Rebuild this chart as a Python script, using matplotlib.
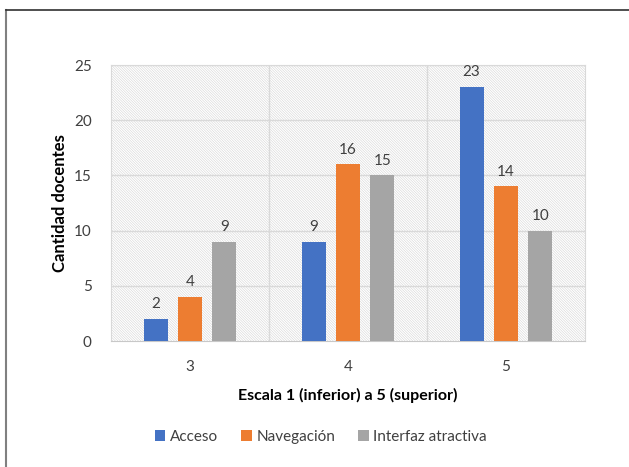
import matplotlib.pyplot as plt
import numpy as np
from matplotlib.patches import Rectangle
from matplotlib.lines import Line2D

plt.rcParams['font.family'] = ['Lato', 'DejaVu Sans']
plt.rcParams['hatch.linewidth'] = 0.4

categories = ['3', '4', '5']
series_names = ['Acceso', 'Navegación', 'Interfaz atractiva']
acceso = [2, 9, 23]
navegacion = [4, 16, 14]
interfaz = [9, 15, 10]
colors = ['#4472C4', '#ED7D31', '#A5A5A5']

fig = plt.figure(figsize=(6.29, 4.67), dpi=100)
ax = fig.add_axes([0.1765, 0.2698, 0.7535, 0.591])

# outer chart frame (only left and top edges visible)
fig.add_artist(Line2D([0.0095, 0.0095], [0, 0.979], color='#808080', lw=1.5))
fig.add_artist(Line2D([0.0095, 1.0], [0.979, 0.979], color='#303030', lw=1.2))

# hatched plot background
ax.add_patch(Rectangle((0, 0), 1, 1, transform=ax.transAxes, facecolor='white',
                       edgecolor='#d4d4d4', hatch='\\' * 13, lw=0, zorder=0))

x = np.arange(len(categories))
width = 0.152
offsets = [-0.218, 0, 0.218]
for vals, name, col, off in zip([acceso, navegacion, interfaz], series_names, colors, offsets):
    bars = ax.bar(x + off, vals, width, color=col, label=name, zorder=3)
    for b, v in zip(bars, vals):
        ax.text(b.get_x() + b.get_width() / 2, v + 0.7, str(v), ha='center', va='bottom',
                fontsize=11, color='#404040', zorder=4)

ax.set_xlim(-0.5, 2.5)
ax.set_ylim(0, 25)
ax.set_yticks([0, 5, 10, 15, 20, 25])
ax.set_xticks(x)
ax.set_xticklabels(categories)
for yv in [5, 10, 15, 20, 25]:
    ax.axhline(yv, color='#d9d9d9', lw=1, zorder=1)
for xv in [0.5, 1.5]:
    ax.axvline(xv, color='#d9d9d9', lw=1, zorder=1)
for s in ['left', 'right', 'top']:
    ax.spines[s].set_color('#d9d9d9')
ax.spines['bottom'].set_color('#c8c8c8')
ax.tick_params(length=0, labelsize=11, labelcolor='#404040')
ax.tick_params(axis='x', pad=14)
ax.tick_params(axis='y', pad=14)

ax.set_ylabel('Cantidad docentes', fontsize=12, fontweight='bold', labelpad=4)
ax.set_xlabel('Escala 1 (inferior) a 5 (superior)', fontsize=11.5, fontweight='bold', labelpad=10)

fig.legend(loc='center', bbox_to_anchor=(0.51, 0.064), ncol=3, frameon=False,
           handlelength=0.7, handleheight=0.7, handletextpad=0.3, columnspacing=1.5,
           fontsize=11, labelcolor='#404040')

fig.savefig('out.png', dpi=100)
